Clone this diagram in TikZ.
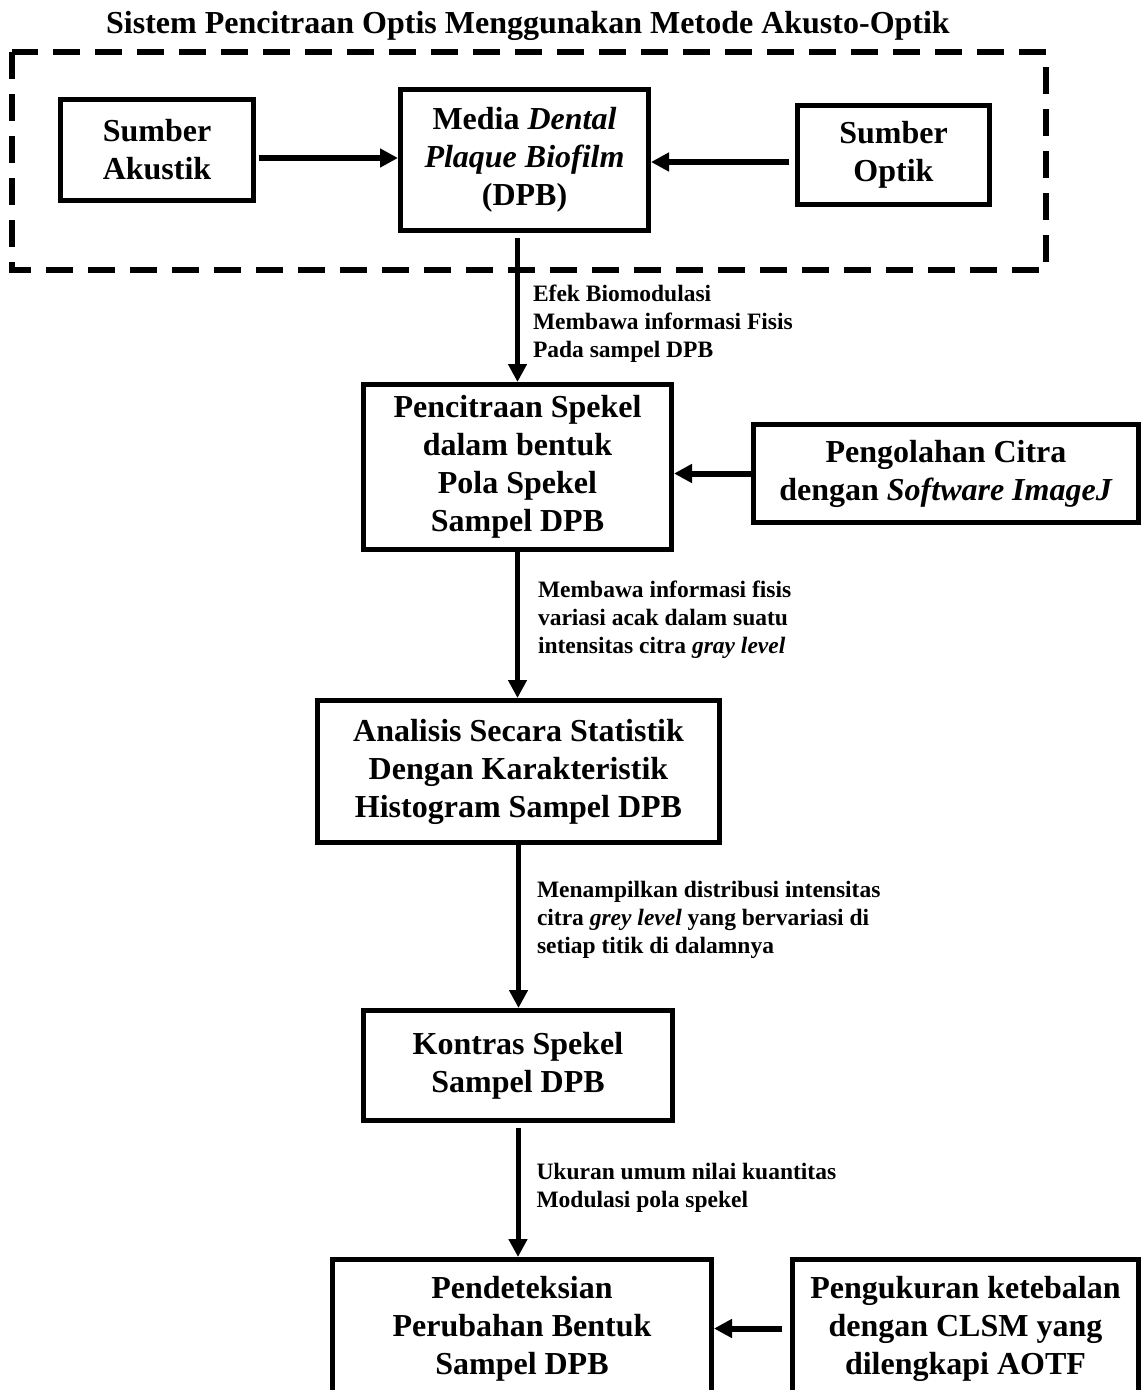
\documentclass[tikz,border=0pt]{standalone}
\usepackage{fontspec}
\setmainfont{Liberation Serif}
\usetikzlibrary{arrows.meta}

\begin{document}
\begin{tikzpicture}[x=1pt,y=-1pt,
  kotak/.style={draw=black, line width=5pt, align=center, inner sep=0pt,
    font=\fontsize{32}{38}\selectfont\bfseries},
  ket/.style={anchor=west, align=left, inner sep=0pt,
    font=\fontsize{23.5}{28}\selectfont\bfseries},
  panah/.style={black, line width=5pt, -{Triangle[length=18pt, width=18pt]}}]
\useasboundingbox (0,0) rectangle (1143,1390);
\node[font=\fontsize{32}{38}\selectfont\bfseries, anchor=base] (judul) at (528,33)
  {Sistem Pencitraan Optis Menggunakan Metode Akusto-Optik};
\draw[black, line width=6pt, dash pattern=on 27pt off 15pt] (12,52) rectangle (1046,270);

\node[kotak, minimum width=193pt, minimum height=101pt] (akustik) at (157,150) {Sumber\\Akustik};
\node[kotak, minimum width=248pt, minimum height=141pt] (media) at (524.5,160)
  {Media \textit{Dental}\\\textit{Plaque Biofilm}\\(DPB)};
\node[kotak, minimum width=192pt, minimum height=99pt] (optik) at (893.5,155) {Sumber\\Optik};
\node[kotak, minimum width=308pt, minimum height=165pt] (pencitraan) at (517.5,467)
  {Pencitraan Spekel\\dalam bentuk\\Pola Spekel\\Sampel DPB};
\node[kotak, minimum width=385pt, minimum height=98pt] (pengolahan) at (946,473.5)
  {Pengolahan Citra\\dengan \textit{Software ImageJ}};
\node[kotak, minimum width=402pt, minimum height=142pt] (analisis) at (518.5,771.5)
  {Analisis Secara Statistik\\Dengan Karakteristik\\Histogram Sampel DPB};
\node[kotak, minimum width=309pt, minimum height=110pt] (kontras) at (518,1065.5)
  {Kontras Spekel\\Sampel DPB};
\node[kotak, minimum width=379pt, minimum height=138pt] (pendeteksian) at (522,1328.5)
  {Pendeteksian\\Perubahan Bentuk\\Sampel DPB};
\node[kotak, minimum width=346pt, minimum height=138pt] (pengukuran) at (965.5,1328.5)
  {Pengukuran ketebalan\\dengan CLSM yang\\dilengkapi AOTF};

\draw[panah, line width=6pt, shorten <=3pt] ([yshift=-8pt]akustik.east) -- ([yshift=-8pt]akustik.east -| media.west);
\draw[panah, line width=6pt, shorten <=6pt] ([yshift=-7pt]optik.west) -- ([yshift=-7pt]optik.west -| media.east);
\draw[panah, line width=6pt] (pengolahan.west) -- (pengolahan.west -| pencitraan.east);
\draw[panah, line width=6pt, shorten <=8pt] (pengukuran.west) -- (pengukuran.west -| pendeteksian.east);

\draw[panah, shorten <=5pt] (pencitraan.north |- media.south) -- (pencitraan.north)
  node[ket, pos=0.607, xshift=13pt] (ket1) {Efek Biomodulasi\\Membawa informasi Fisis\\Pada sampel DPB};
\draw[panah] (pencitraan.south) -- (pencitraan.south |- analisis.north)
  node[ket, pos=0.467, xshift=18pt] (ket2) {Membawa informasi fisis\\variasi acak dalam suatu\\intensitas citra \textit{gray level}};
\draw[panah] (analisis.south) -- (analisis.south |- kontras.north)
  node[ket, pos=0.461, xshift=16pt] (ket3) {Menampilkan distribusi intensitas\\citra \textit{grey level} yang bervariasi di\\setiap titik di dalamnya};
\draw[panah, shorten <=5pt] (kontras.south) -- (kontras.south |- pendeteksian.north)
  node[ket, pos=0.486, xshift=16pt] (ket4) {Ukuran umum nilai kuantitas\\Modulasi pola spekel};
\end{tikzpicture}
\end{document}
